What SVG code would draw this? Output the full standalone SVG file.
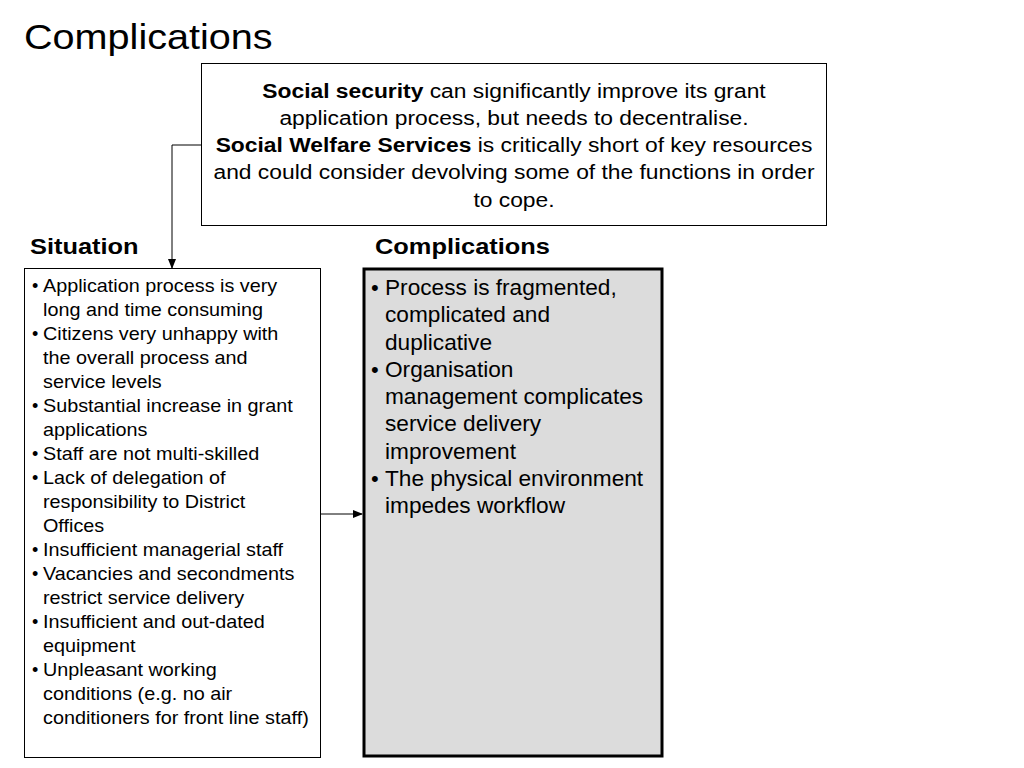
<svg xmlns="http://www.w3.org/2000/svg" width="1024" height="768" viewBox="0 0 1024 768">
<defs>
<style>
text{font-family:"Liberation Sans",Arial,sans-serif;fill:#000}
.title{font-size:36px}
.hdr{font-size:22px;font-weight:bold}
.top{font-size:19.5px;text-anchor:middle}
.b{font-weight:bold}
.sit{font-size:18px}
.cmp{font-size:22px}
.box{fill:#fff;stroke:#000;stroke-width:1}
.conn{fill:none;stroke:#000;stroke-width:1}
</style>
<marker id="ah" markerWidth="10" markerHeight="10" refX="9" refY="5" orient="auto" markerUnits="userSpaceOnUse">
<path d="M0,1 L10,5 L0,9 Z" fill="#000"/>
</marker>
</defs>
<rect width="1024" height="768" fill="#fff"/>
<text class="title" x="24" y="49" transform="translate(24 0) scale(1.1 1) translate(-24 0)">Complications</text>

<g id="summary">
<rect class="box" x="201.5" y="63.5" width="625" height="162"/>
<g transform="translate(514 0) scale(1.17 1) translate(-514 0)">
<text class="top" x="514" y="98"><tspan class="b">Social security</tspan> can significantly improve its grant</text>
<text class="top" x="514" y="125">application process, but needs to decentralise.</text>
<text class="top" x="514" y="152"><tspan class="b">Social Welfare Services</tspan> is critically short of key resources</text>
<text class="top" x="514" y="179">and could consider devolving some of the functions in order</text>
<text class="top" x="514" y="207">to cope.</text>
</g>
</g>

<g id="situation">
<text class="hdr" x="30" y="254" transform="translate(30 0) scale(1.155 1) translate(-30 0)">Situation</text>
<rect class="box" x="24.5" y="268.5" width="296" height="489"/>
<g class="sit">
<text x="32" y="292">•</text>
<text x="32" y="340">•</text>
<text x="32" y="412">•</text>
<text x="32" y="460">•</text>
<text x="32" y="484">•</text>
<text x="32" y="556">•</text>
<text x="32" y="580">•</text>
<text x="32" y="628">•</text>
<text x="32" y="676">•</text>
<g transform="translate(43 0) scale(1.1 1) translate(-43 0)">
<text x="43" y="292">Application process is very</text>
<text x="43" y="316">long and time consuming</text>
<text x="43" y="340">Citizens very unhappy with</text>
<text x="43" y="364">the overall process and</text>
<text x="43" y="388">service levels</text>
<text x="43" y="412">Substantial increase in grant</text>
<text x="43" y="436">applications</text>
<text x="43" y="460">Staff are not multi-skilled</text>
<text x="43" y="484">Lack of delegation of</text>
<text x="43" y="508">responsibility to District</text>
<text x="43" y="532">Offices</text>
<text x="43" y="556">Insufficient managerial staff</text>
<text x="43" y="580">Vacancies and secondments</text>
<text x="43" y="604">restrict service delivery</text>
<text x="43" y="628">Insufficient and out-dated</text>
<text x="43" y="652">equipment</text>
<text x="43" y="676">Unpleasant working</text>
<text x="43" y="700">conditions (e.g. no air</text>
<text x="43" y="724">conditioners for front line staff)</text>
</g>
</g>
</g>

<g id="complications">
<text class="hdr" x="375" y="254" transform="translate(375 0) scale(1.155 1) translate(-375 0)">Complications</text>
<rect x="364" y="269" width="298" height="487" fill="#dcdcdc" stroke="#000" stroke-width="3"/>
<g class="cmp">
<text x="371" y="295">•</text>
<text x="371" y="377">•</text>
<text x="371" y="486">•</text>
<g transform="translate(385 0) scale(1.03 1) translate(-385 0)">
<text x="385" y="295">Process is fragmented,</text>
<text x="385" y="322">complicated and</text>
<text x="385" y="350">duplicative</text>
<text x="385" y="377">Organisation</text>
<text x="385" y="404">management complicates</text>
<text x="385" y="431">service delivery</text>
<text x="385" y="459">improvement</text>
<text x="385" y="486">The physical environment</text>
<text x="385" y="513">impedes workflow</text>
</g>
</g>
</g>

<g id="connectors">
<path class="conn" d="M201,145 H172 V268" marker-end="url(#ah)"/>
<path class="conn" d="M321,514 H362" marker-end="url(#ah)"/>
</g>
</svg>
